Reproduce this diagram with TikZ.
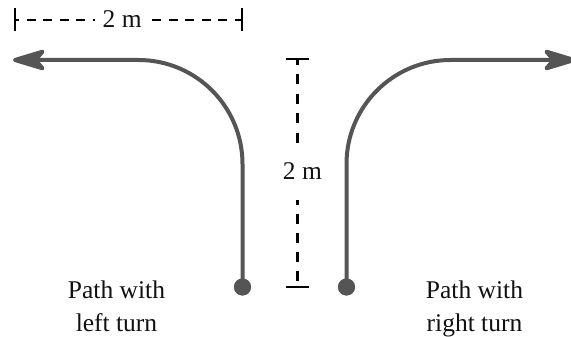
\documentclass[tikz,border=0pt]{standalone}
\usepackage{fontspec}
\setmainfont{Liberation Serif}
\usetikzlibrary{arrows.meta,calc}
\definecolor{pathgray}{HTML}{555555}
\definecolor{txt}{HTML}{111111}
\tikzset{
  turnpath/.style={draw=pathgray, line width=4pt, rounded corners=104pt,
    -{Stealth[length=40pt,width=24pt,inset=10pt,round=false]}},
  startdot/.style={circle, fill=pathgray, inner sep=0pt, minimum size=17pt},
  dimline/.style={draw=black, line width=2.6pt},
  dimtick/.style={draw=black, line width=2.6pt},
  dimlabel/.style={text=txt, inner sep=0pt, anchor=base west, font=\fontsize{25.5}{30}\selectfont},
  caption/.style={align=center, text=txt, inner sep=0pt, anchor=north,
    font=\fontsize{25.5}{32.5}\selectfont}
}
\begin{document}
\begin{tikzpicture}[x=1pt, y=-1pt]
\useasboundingbox (0,0) rectangle (571,337);
% left turn path
\coordinate (lcorner) at (242.5,60);
\coordinate (ltip) at (13,60);
\node[startdot] (ldot) at (242.5,287) {};
\draw[turnpath] (ldot.center) -- (lcorner) -- (ltip);
\node[startdot] at (ldot) {};
% right turn path
\coordinate (rcorner) at (346.5,60);
\coordinate (rtip) at (576,60);
\node[startdot] (rdot) at (346.5,287) {};
\draw[turnpath] (rdot.center) -- (rcorner) -- (rtip);
\node[startdot] at (rdot) {};
% horizontal dimension
\coordinate (h1) at (15,20);
\coordinate (h2) at (242,20);
\coordinate (hg1) at (95,20);
\coordinate (hg2) at (152,20);
\draw[dimline, dash pattern=on 9pt off 7.5pt, dash phase=5pt] (h1) -- (hg1);
\draw[dimline, dash pattern=on 9pt off 7.5pt] (hg2) -- (h2);
\draw[dimtick] ([yshift=-11.5pt]h1) -- ([yshift=11.5pt]h1);
\draw[dimtick] ([yshift=-11.5pt]h2) -- ([yshift=11.5pt]h2);
\node[dimlabel] (hlab) at (102.5,27.3) {2 m};
% vertical dimension
\coordinate (v1) at (297.5,59);
\coordinate (v2) at (297.5,287);
\coordinate (vg1) at (297.5,146);
\coordinate (vg2) at (297.5,200);
\draw[dimline, dash pattern=on 10pt off 9.5pt, dash phase=4pt] (v1) -- (vg1);
\draw[dimline, dash pattern=on 10pt off 9pt, dash phase=5pt] (vg2) -- (v2);
\draw[dimtick] ([xshift=-11.5pt]v1) -- ([xshift=11.5pt]v1);
\draw[dimtick] ([xshift=-11.5pt]v2) -- ([xshift=11.5pt]v2);
\node[dimlabel] (vlab) at (282.7,179.3) {2 m};
% captions
\node[caption] (lcap) at (116.5,281) {Path with\\left turn};
\node[caption] (rcap) at (474.5,281) {Path with\\right turn};
\end{tikzpicture}
\end{document}
